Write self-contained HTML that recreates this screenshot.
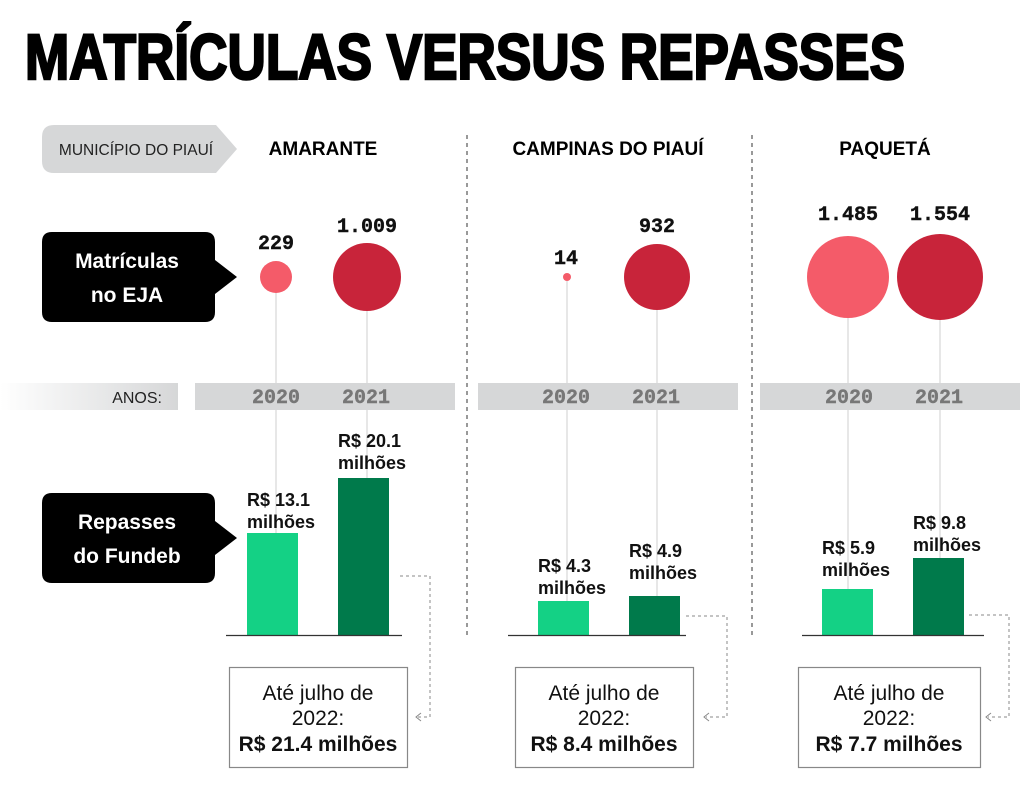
<!DOCTYPE html>
<html><head><meta charset="utf-8"><style>
html,body{margin:0;padding:0;background:#fff;}
svg{display:block;}
.sans{font-family:"Liberation Sans",sans-serif;}
.mono{font-family:"Liberation Mono",monospace;font-weight:bold;}
</style></head><body>
<svg width="1024" height="800" viewBox="0 0 1024 800" xmlns="http://www.w3.org/2000/svg" class="sans">
<defs>
<linearGradient id="g" x1="0" x2="1" y1="0" y2="0"><stop offset="0" stop-color="#fff"/><stop offset="1" stop-color="#d6d7d8"/></linearGradient>
</defs>
<text x="25" y="79" font-size="64" font-weight="bold" textLength="880" lengthAdjust="spacingAndGlyphs" fill="#000" stroke="#000" stroke-width="2.5">MATRÍCULAS VERSUS REPASSES</text>

<path d="M54,125 H216 L237,149 L216,173 H54 Q42,173 42,161 V137 Q42,125 54,125 Z" fill="#d6d7d8"/>
<text x="136" y="155" font-size="15.5" text-anchor="middle" fill="#222">MUNICÍPIO DO PIAUÍ</text>
<text x="323" y="155" font-size="19" font-weight="bold" text-anchor="middle">AMARANTE</text>
<text x="608" y="155" font-size="19" font-weight="bold" text-anchor="middle">CAMPINAS DO PIAUÍ</text>
<text x="885" y="155" font-size="19" font-weight="bold" text-anchor="middle">PAQUETÁ</text>

<line x1="467" y1="135" x2="467" y2="635" stroke="#333" stroke-dasharray="4,4"/>
<line x1="752" y1="135" x2="752" y2="635" stroke="#333" stroke-dasharray="4,4"/>

<path d="M52,232 H205 Q215,232 215,242 V260 L237,277 L215,294 V312 Q215,322 205,322 H52 Q42,322 42,312 V242 Q42,232 52,232 Z" fill="#000"/>
<text x="127" y="268" font-size="21" font-weight="bold" fill="#fff" text-anchor="middle">Matrículas</text>
<text x="127" y="302" font-size="21" font-weight="bold" fill="#fff" text-anchor="middle">no EJA</text>
<path d="M52,493 H205 Q215,493 215,503 V521 L237,538 L215,555 V573 Q215,583 205,583 H52 Q42,583 42,573 V503 Q42,493 52,493 Z" fill="#000"/>
<text x="127" y="529" font-size="21" font-weight="bold" fill="#fff" text-anchor="middle">Repasses</text>
<text x="127" y="563" font-size="21" font-weight="bold" fill="#fff" text-anchor="middle">do Fundeb</text>

<g stroke="#cfcfcf" stroke-width="1">
<line x1="276" y1="277" x2="276" y2="533"/><line x1="367" y1="277" x2="367" y2="478"/>
<line x1="567" y1="277" x2="567" y2="601"/><line x1="657" y1="277" x2="657" y2="596"/>
<line x1="848" y1="277" x2="848" y2="589"/><line x1="940" y1="277" x2="940" y2="558"/>
</g>

<rect x="0" y="383" width="178" height="27" fill="url(#g)"/>
<text x="162" y="403" font-size="16" text-anchor="end" fill="#222">ANOS:</text>
<rect x="195" y="383" width="260" height="27" fill="#d6d7d8"/>
<rect x="478" y="383" width="260" height="27" fill="#d6d7d8"/>
<rect x="760" y="383" width="260" height="27" fill="#d6d7d8"/>
<g class="mono" font-size="20" fill="#777" stroke="#777" stroke-width="0.4" text-anchor="middle">
<text x="276" y="403">2020</text><text x="366" y="403">2021</text>
<text x="566" y="403">2020</text><text x="656" y="403">2021</text>
<text x="849" y="403">2020</text><text x="939" y="403">2021</text>
</g>

<circle cx="276" cy="277" r="16" fill="#f45b69"/>
<circle cx="367" cy="277" r="34" fill="#c8243a"/>
<circle cx="567" cy="277" r="4" fill="#f45b69"/>
<circle cx="657" cy="277" r="33" fill="#c8243a"/>
<circle cx="848" cy="277" r="41" fill="#f45b69"/>
<circle cx="940" cy="277" r="43" fill="#c8243a"/>
<g class="mono" font-size="20" text-anchor="middle" fill="#111" stroke="#111" stroke-width="0.4">
<text x="276" y="249">229</text><text x="367" y="232">1.009</text>
<text x="566" y="264">14</text><text x="657" y="232">932</text>
<text x="848" y="220">1.485</text><text x="940" y="220">1.554</text>
</g>

<rect x="247" y="533" width="51" height="102" fill="#14d185"/>
<rect x="338" y="478" width="51" height="157" fill="#007a4b"/>
<rect x="538" y="601" width="51" height="34" fill="#14d185"/>
<rect x="629" y="596" width="51" height="39" fill="#007a4b"/>
<rect x="822" y="589" width="51" height="46" fill="#14d185"/>
<rect x="913" y="558" width="51" height="77" fill="#007a4b"/>
<g stroke="#333" stroke-width="1.2">
<line x1="226" y1="635.5" x2="402" y2="635.5"/>
<line x1="508" y1="635.5" x2="686" y2="635.5"/>
<line x1="802" y1="635.5" x2="984" y2="635.5"/>
</g>
<g font-size="18" font-weight="bold" fill="#111">
<text x="247" y="506">R$ 13.1</text><text x="247" y="528">milhões</text>
<text x="338" y="447">R$ 20.1</text><text x="338" y="469">milhões</text>
<text x="538" y="572">R$ 4.3</text><text x="538" y="594">milhões</text>
<text x="629" y="557">R$ 4.9</text><text x="629" y="579">milhões</text>
<text x="822" y="554">R$ 5.9</text><text x="822" y="576">milhões</text>
<text x="913" y="529">R$ 9.8</text><text x="913" y="551">milhões</text>
</g>

<g fill="none" stroke="#888" stroke-width="1" stroke-dasharray="3,3">
<path d="M400,576 H430 V717 H418"/>
<path d="M686,616 H727 V717 H706"/>
<path d="M969,615 H1009 V717 H988"/>
</g>
<g fill="none" stroke="#888" stroke-width="1">
<path d="M421,713 L416,717 L421,721"/>
<path d="M709,713 L704,717 L709,721"/>
<path d="M991,713 L986,717 L991,721"/>
</g>

<g fill="#fff" stroke="#888" stroke-width="1.2">
<rect x="229.5" y="667.5" width="178" height="100"/>
<rect x="515.5" y="667.5" width="178" height="100"/>
<rect x="798.5" y="667.5" width="182" height="100"/>
</g>
<g font-size="21" text-anchor="middle" fill="#111">
<text x="318" y="700">Até julho de</text><text x="318" y="725">2022:</text>
<text x="318" y="751" font-weight="bold">R$ 21.4 milhões</text>
<text x="604" y="700">Até julho de</text><text x="604" y="725">2022:</text>
<text x="604" y="751" font-weight="bold">R$ 8.4 milhões</text>
<text x="889" y="700">Até julho de</text><text x="889" y="725">2022:</text>
<text x="889" y="751" font-weight="bold">R$ 7.7 milhões</text>
</g>
</svg>
</body></html>
